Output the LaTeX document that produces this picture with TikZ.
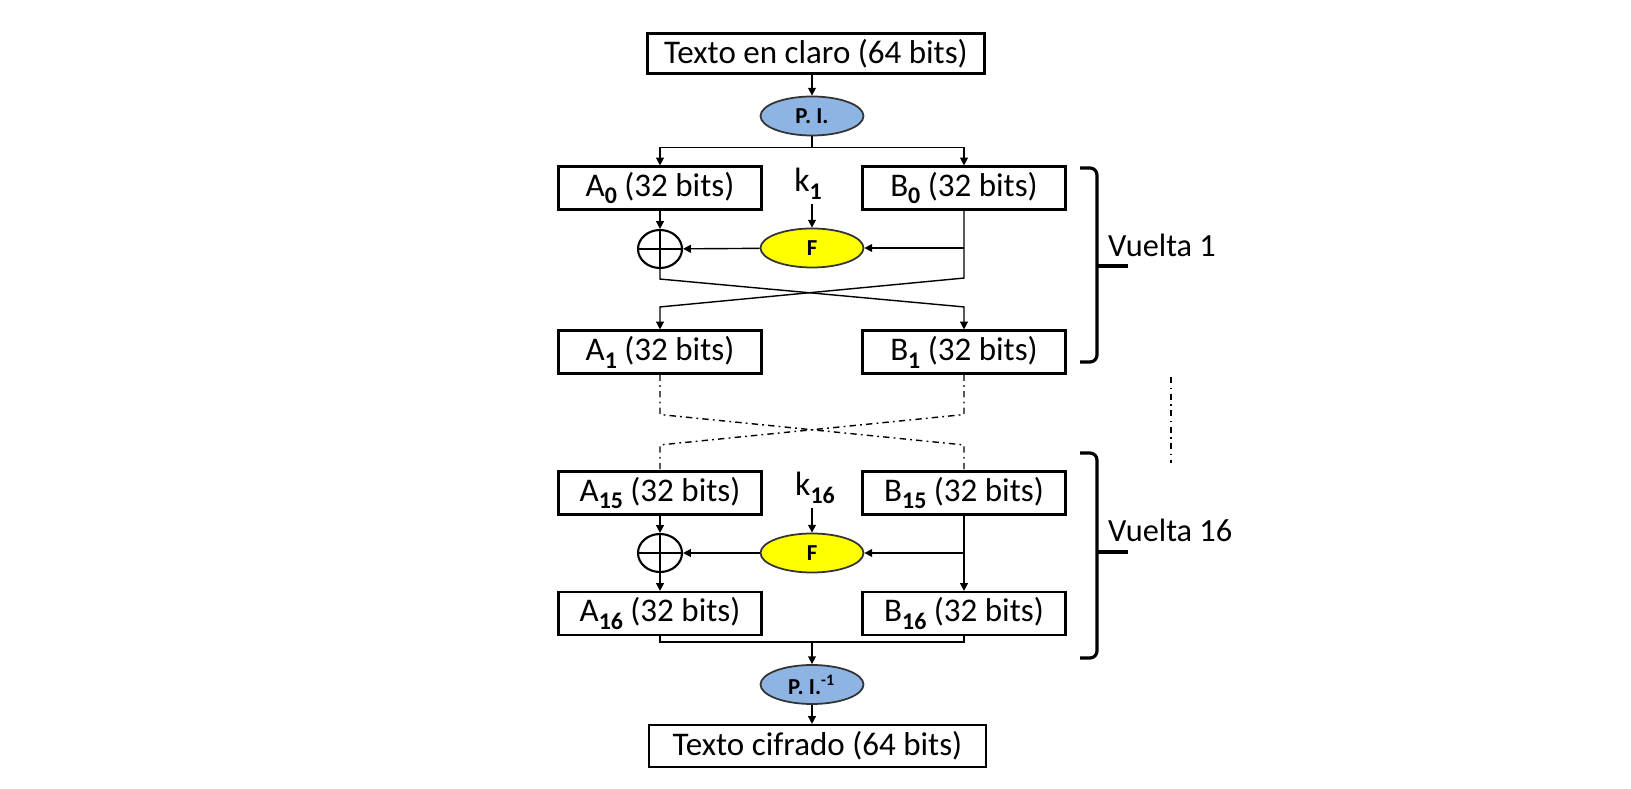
\documentclass[tikz,border=0pt]{standalone}
\usepackage{fontspec}
\setmainfont{Carlito}
\usetikzlibrary{shapes.geometric,arrows.meta,calc}

\definecolor{piblue}{RGB}{141,180,226}
\definecolor{fyellow}{RGB}{255,255,0}
\newcommand{\bsub}[1]{\raisebox{-0.5ex}{\fontsize{6.8}{7}\selectfont\bfseries #1}}

\tikzset{
	bitbox/.style={draw,line width=0.6pt,minimum width=2.03cm,minimum height=0.43cm,inner sep=0pt,font=\fontsize{9.4}{10}\selectfont},
	textbox/.style={bitbox,minimum width=3.37cm,minimum height=0.40cm},
	perm/.style={ellipse,draw=black!80,line width=0.5pt,fill=piblue,minimum width=1.03cm,minimum height=0.39cm,inner sep=0pt,font=\fontsize{6.5}{7}\selectfont\bfseries},
	func/.style={perm,fill=fyellow},
	xorop/.style={ellipse,draw,line width=0.6pt,minimum width=0.44cm,minimum height=0.38cm,inner sep=0pt},
	key/.style={inner sep=1pt,font=\fontsize{9.6}{10}\selectfont},
	link/.style={line width=0.4pt,-{Triangle[length=2.2pt,width=2.2pt]}},
	dashlink/.style={line width=0.4pt,dash pattern=on 1.8pt off 1.2pt on 0.5pt off 1.2pt},
	vuelta/.style={line width=0.9pt,rounded corners=2pt},
	roundlabel/.style={anchor=west,inner sep=1pt,font=\fontsize{9.2}{10}\selectfont},
}

\begin{document}
\begin{tikzpicture}
	\useasboundingbox (0,0) rectangle (16.31,7.88);

	\node[textbox] (plain) at (8.16,7.345) {Texto en claro (64 bits)};
	\node[perm] (pi) at (8.12,6.72) {P. I.};
	\node[bitbox] (a0) at (6.60,6.00) {A\bsub{0} (32 bits)};
	\node[bitbox] (b0) at (9.64,6.00) {B\bsub{0} (32 bits)};
	\node[key] (k1) at (8.08,6.04) {k\bsub{1}};
	\node[func] (f1) at (8.12,5.40) {F};
	\node[xorop] (x1) at (6.60,5.39) {};
	\node[bitbox] (a1) at (6.60,4.36) {A\bsub{1} (32 bits)};
	\node[bitbox] (b1) at (9.64,4.36) {B\bsub{1} (32 bits)};

	\node[bitbox] (a15) at (6.60,2.95) {A\bsub{15} (32 bits)};
	\node[bitbox] (b15) at (9.64,2.95) {B\bsub{15} (32 bits)};
	\node[key] (k16) at (8.15,3.00) {k\bsub{16}};
	\node[func] (f16) at (8.12,2.35) {F};
	\node[xorop] (x16) at (6.60,2.35) {};
	\node[bitbox] (a16) at (6.60,1.745) {A\bsub{16} (32 bits)};
	\node[bitbox] (b16) at (9.64,1.745) {B\bsub{16} (32 bits)};
	\node[perm] (pii) at (8.12,1.035) {P. I.\textsuperscript{-1}};
	\node[textbox,minimum height=0.42cm] (cipher) at (8.175,0.42) {Texto cifrado (64 bits)};

	\node[roundlabel] (v1) at (11.04,5.43) {Vuelta 1};
	\node[roundlabel] (v16) at (11.04,2.58) {Vuelta 16};

	\draw[line width=0.6pt] (x1.north) -- (x1.south) (x1.west) -- (x1.east);
	\draw[line width=0.6pt] (x16.north) -- (x16.south) (x16.west) -- (x16.east);

	\coordinate (split0) at ($(pi.south)+(0,-0.11)$);
	\coordinate (bsplit1) at (b0.south |- f1);
	\coordinate (bsplit16) at (b15.south |- f16);
	\coordinate (merge) at ($(pii.north)+(0,0.22)$);

	\draw[link] (plain.south -| pi.north) -- (pi.north);
	\draw (pi.south) -- (split0);
	\draw[link] (split0) -| (a0.north);
	\draw[link] (split0) -| (b0.north);
	\draw[link] (k1.south -| f1.north) -- (f1.north);
	\draw[link] (a0) -- (x1);
	\draw[link] (bsplit1) -- (f1);
	\draw[link] (f1) -- (x1);
	\draw[link] (b0.south) -- ++(0,-0.675) -- ($(a1.north)+(0,0.225)$) -- (a1.north);
	\draw[link] (x1.south) -- ++(0,-0.10) -- ($(b1.north)+(0,0.225)$) -- (b1.north);

	\draw[dashlink] (a1.south) -- ++(0,-0.40) -- ($(b15.north)+(0,0.255)$) -- (b15.north);
	\draw[dashlink] (b1.south) -- ++(0,-0.40) -- ($(a15.north)+(0,0.255)$) -- (a15.north);

	\draw[link] (k16.south -| f16.north) -- (f16.north);
	\draw[link] (a15) -- (x16);
	\draw[link] (x16) -- (a16);
	\draw[link] (b15) -- (b16);
	\draw[link] (bsplit16) -- (f16);
	\draw[link] (f16) -- (x16);

	\draw (a16.south) |- (merge) -| (b16.south);
	\draw[link] (merge) -- (pii.north);
	\draw[link] (pii.south) -- (pii.south |- cipher.north);

	\draw[vuelta] (10.80,6.20) -- (10.97,6.20) -- (10.97,4.26) -- (10.80,4.26);
	\draw[line width=0.9pt] (10.97,5.22) -- (11.28,5.22);
	\draw[vuelta] (10.80,3.35) -- (10.97,3.35) -- (10.97,1.30) -- (10.80,1.30);
	\draw[line width=0.9pt] (10.97,2.36) -- (11.28,2.36);
	\draw[dashlink] (11.71,4.11) -- (11.71,3.25);
\end{tikzpicture}
\end{document}
